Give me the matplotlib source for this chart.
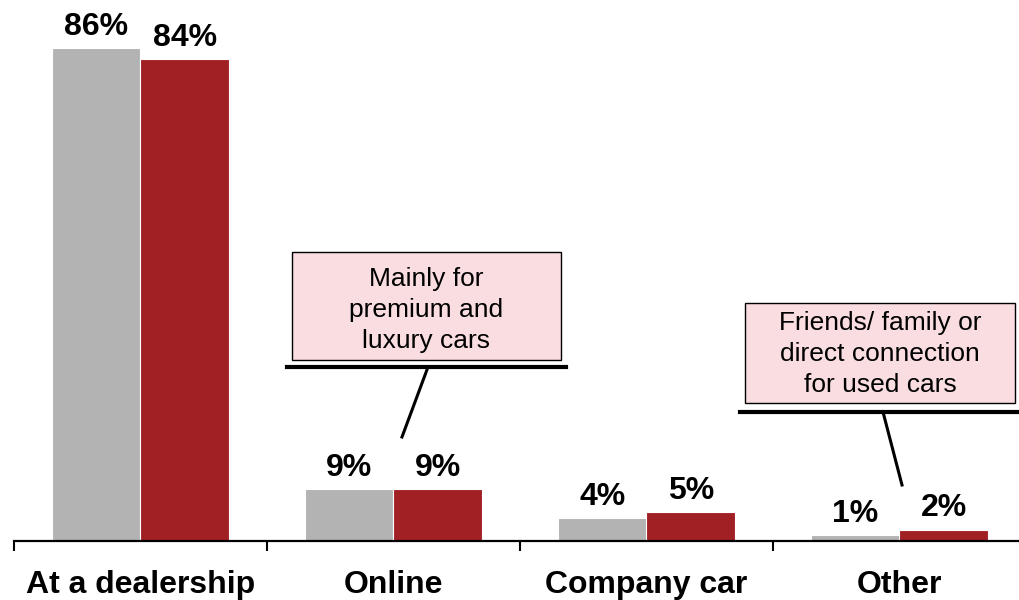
import matplotlib
matplotlib.use("Agg")
import matplotlib.pyplot as plt
from matplotlib.patches import Rectangle
from matplotlib.lines import Line2D
import numpy as np

plt.rcParams['font.family'] = ['Liberation Sans', 'DejaVu Sans']

categories = ["At a dealership", "Online", "Company car", "Other"]
series_a = [86, 9, 4, 1]   # grey series
series_b = [84, 9, 5, 2]   # red series
value_labels_a = ["86%", "9%", "4%", "1%"]
value_labels_b = ["84%", "9%", "5%", "2%"]

notes = [
    "Mainly for\npremium and\nluxury cars",
    "Friends/ family or\ndirect connection\nfor used cars",
]

GREY = "#B3B3B3"
RED = "#A02024"
PINK = "#F9DDE1"

W, H = 1020, 600
fig = plt.figure(figsize=(W / 100, H / 100), dpi=100)

# axes placement in pixels (measured from the top-left corner)
ax_left, ax_right, ax_top, ax_bottom = 14, 1020, 10, 541
ax = fig.add_axes([ax_left / W, 1 - ax_bottom / H,
                   (ax_right - ax_left) / W, (ax_bottom - ax_top) / H])

px_per_unit = (541 - 48) / 86
ymax = (ax_bottom - ax_top) / px_per_unit
cat_w = 253
xmax = -0.5 + (ax_right - ax_left) / cat_w

x = np.arange(len(categories))
bw = 0.35
bars_a = ax.bar(x - bw / 2, series_a, bw, color=GREY, edgecolor="white", linewidth=0.8)
bars_b = ax.bar(x + bw / 2, series_b, bw, color=RED, edgecolor="white", linewidth=0.8)

for bars, labels in ((bars_a, value_labels_a), (bars_b, value_labels_b)):
    for b, lab in zip(bars, labels):
        ax.annotate(lab, (b.get_x() + b.get_width() / 2, b.get_height()),
                    xytext=(0, 9.5), textcoords="offset points",
                    ha="center", va="baseline", fontsize=23, fontweight="bold")

ax.set_xlim(-0.5, xmax)
ax.set_ylim(0, ymax)
for s in ("top", "right", "left"):
    ax.spines[s].set_visible(False)
ax.spines["bottom"].set_linewidth(1.6)
ax.set_yticks([])
ax.set_xticks(np.arange(len(categories)) - 0.5)
ax.set_xticklabels([])
ax.tick_params(axis="x", direction="out", length=7.5, width=1.5, color="black")

axh = ax_bottom - ax_top
for xi, cat in zip(x, categories):
    ax.text(xi, -(593 - ax_bottom) / axh, cat, transform=ax.get_xaxis_transform(),
            ha="center", va="baseline", fontsize=23, fontweight="bold")


def fx(px):
    return px / W


def fy(py):
    return 1 - py / H


def callout(text, box, text_y, underline, leader):
    x0, y0, x1, y1 = box
    fig.patches.append(Rectangle((fx(x0), fy(y1)), fx(x1) - fx(x0), fy(y0) - fy(y1),
                                 transform=fig.transFigure, facecolor=PINK,
                                 edgecolor="black", linewidth=1.0, zorder=5))
    fig.text(fx((x0 + x1) / 2), fy(text_y), text, ha="center", va="center",
             fontsize=19, linespacing=1.38, zorder=6)
    ux0, ux1, uy = underline
    fig.lines.append(Line2D([fx(ux0), fx(ux1)], [fy(uy), fy(uy)],
                            transform=fig.transFigure, color="black", linewidth=3, zorder=6))
    (lx0, ly0), (lx1, ly1) = leader
    fig.lines.append(Line2D([fx(lx0), fx(lx1)], [fy(ly0), fy(ly1)],
                            transform=fig.transFigure, color="black", linewidth=2.2, zorder=6))


callout(notes[0], (292, 252, 561, 360), 310, (287, 566, 367), ((428, 367), (402, 437)))
callout(notes[1], (745, 303, 1015, 403), 354, (740, 1019, 412), ((883, 412), (902, 485)))

fig.savefig("out.png", dpi=100)
